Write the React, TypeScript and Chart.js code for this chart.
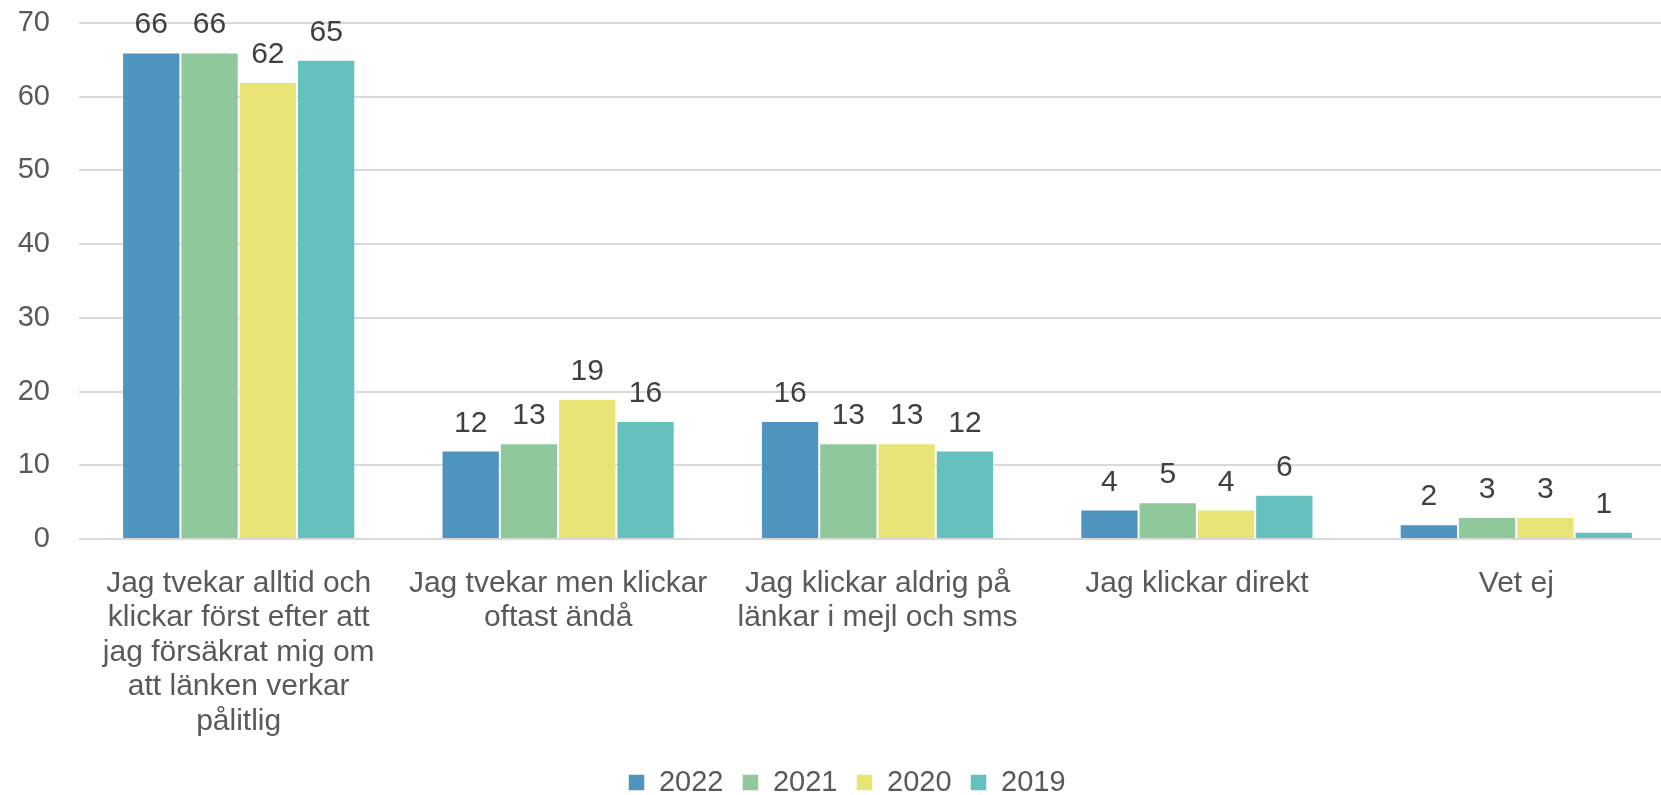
import React, { useEffect, useRef } from "react";
import { Chart, registerables } from "chart.js";

Chart.register(...registerables);

const categories: (string | string[])[] = [
  ["Jag tvekar alltid och", "klickar först efter att", "jag försäkrat mig om", "att länken verkar", "pålitlig"],
  ["Jag tvekar men klickar", "oftast ändå"],
  ["Jag klickar aldrig på", "länkar i mejl och sms"],
  "Jag klickar direkt",
  "Vet ej",
];

const seriesNames = ["2022", "2021", "2020", "2019"];
const values2022 = [66, 12, 16, 4, 2];
const values2021 = [66, 13, 13, 5, 3];
const values2020 = [62, 19, 13, 4, 3];
const values2019 = [65, 16, 12, 6, 1];
const seriesColors = ["#4E94BE", "#8FC89A", "#E8E476", "#65C1BE"];

const yTicks = [0, 10, 20, 30, 40, 50, 60, 70];

const FONT = "'Liberation Sans', Arial, sans-serif";

const dataLabelPlugin = {
  id: "dataLabels",
  afterDatasetsDraw(chart: any) {
    const ctx = chart.ctx;
    ctx.save();
    ctx.font = `30px ${FONT}`;
    ctx.fillStyle = "#404040";
    ctx.textAlign = "center";
    ctx.textBaseline = "alphabetic";
    chart.data.datasets.forEach((ds: any, i: number) => {
      const meta = chart.getDatasetMeta(i);
      meta.data.forEach((bar: any, j: number) => {
        ctx.fillText(String(ds.data[j]), bar.x, bar.y - 19);
      });
    });
    ctx.restore();
  },
};

export default function App() {
  const ref = useRef<HTMLCanvasElement>(null);
  useEffect(() => {
    document.body.style.margin = "0";
    const allValues = [values2022, values2021, values2020, values2019];
    const chart = new Chart(ref.current!, {
      type: "bar",
      data: {
        labels: categories,
        datasets: seriesNames.map((name, i) => ({
          label: name,
          data: allValues[i],
          backgroundColor: seriesColors[i],
          borderColor: "rgba(255,255,255,0.5)",
          borderWidth: 1,
          barPercentage: 1,
          categoryPercentage: 0.73,
        })),
      },
      options: {
        responsive: false,
        animation: false,
        layout: { padding: { left: 18, right: 4, top: 23, bottom: 0 } },
        plugins: {
          tooltip: { enabled: false },
          legend: {
            position: "bottom",
            labels: {
              boxWidth: 16,
              boxHeight: 16,
              padding: 19,
              color: "#595959",
              font: { size: 29, family: FONT },
            },
          },
        },
        scales: {
          x: {
            grid: { display: false },
            border: { display: false },
            ticks: {
              color: "#595959",
              font: { size: 30, family: FONT, lineHeight: 1.15 },
              maxRotation: 0,
              autoSkip: false,
              padding: 19,
            },
            afterFit(scale: any) {
              scale.paddingLeft = 0;
              scale.paddingRight = 0;
              scale.height = 210;
            },
          },
          y: {
            min: 0,
            max: 70,
            afterBuildTicks(scale: any) {
              scale.ticks = yTicks.map((v) => ({ value: v }));
            },
            afterFit(scale: any) {
              scale.width = 61;
              scale.paddingTop = 0;
              scale.paddingBottom = 0;
            },
            grid: { color: "#D9D9D9", lineWidth: 2, drawTicks: false },
            border: { display: false },
            ticks: {
              color: "#595959",
              font: { size: 29, family: FONT },
              padding: 29,
            },
          },
        },
      },
      plugins: [dataLabelPlugin],
    });
    return () => chart.destroy();
  }, []);
  return (
    <div style={{ position: "fixed", left: 0, top: 0, width: 1661, height: 795, overflow: "hidden", background: "#fff" }}>
      <canvas ref={ref} width={1680} height={807} style={{ display: "block" }} />
    </div>
  );
}
